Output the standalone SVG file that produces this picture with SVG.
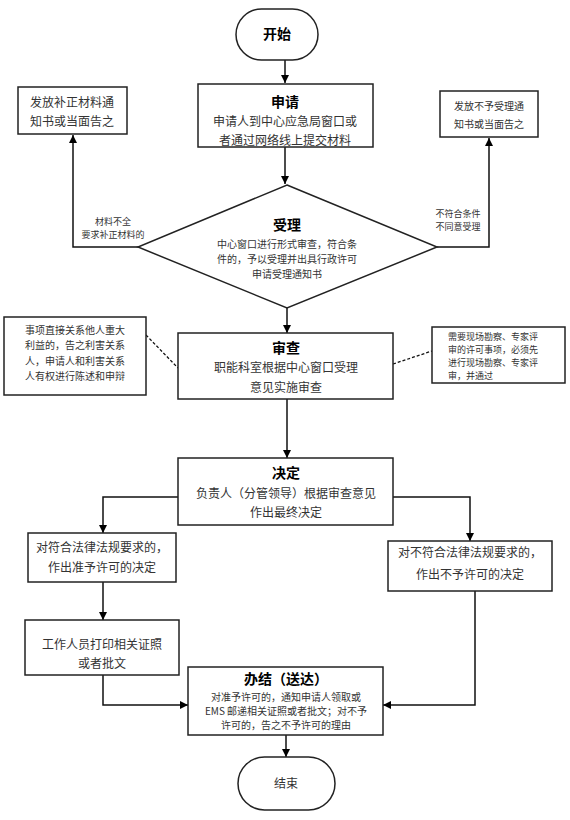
<svg xmlns="http://www.w3.org/2000/svg" width="570" height="820" viewBox="0 0 570 820">
<defs>
<marker id="ah" viewBox="0 0 10 10" refX="10" refY="5" markerWidth="8" markerHeight="8" markerUnits="userSpaceOnUse" orient="auto"><path d="M0,0 L10,5 L0,10 z" fill="#000"/></marker>
<style>
.box{fill:#fff;stroke:#222;stroke-width:1.5}
.t{font-family:"Noto Sans CJK SC","Noto Sans",sans-serif;fill:#333;text-anchor:middle}
.h{font-size:14px;font-weight:bold;fill:#000}
.b{font-size:12px}
.s{font-size:10px}
.xs{font-size:9px}
.l{text-anchor:start}
.ln{fill:none;stroke:#111;stroke-width:1.5}
.dash{fill:none;stroke:#111;stroke-width:1.3;stroke-dasharray:3,2}
</style>
</defs>
<g id="connectors">
<line class="ln" x1="285" y1="60" x2="285" y2="83" marker-end="url(#ah)"/>
<line class="ln" x1="285" y1="147" x2="285" y2="184" marker-end="url(#ah)"/>
<polyline class="ln" points="140,247 73,247 73,135" marker-end="url(#ah)"/>
<polyline class="ln" points="437,247 489,247 489,138" marker-end="url(#ah)"/>
<line class="ln" x1="287" y1="308" x2="287" y2="333" marker-end="url(#ah)"/>
<line class="dash" x1="146" y1="335" x2="178" y2="368"/>
<line class="dash" x1="393" y1="364" x2="432" y2="351"/>
<line class="ln" x1="287" y1="399" x2="287" y2="458" marker-end="url(#ah)"/>
<polyline class="ln" points="178,497 103,497 103,533" marker-end="url(#ah)"/>
<polyline class="ln" points="393,497 470,497 470,541" marker-end="url(#ah)"/>
<line class="ln" x1="103" y1="582" x2="103" y2="620" marker-end="url(#ah)"/>
<polyline class="ln" points="103,675 103,705 188,705" marker-end="url(#ah)"/>
<polyline class="ln" points="475,591 475,705 383,705" marker-end="url(#ah)"/>
<line class="ln" x1="286" y1="735" x2="286" y2="757" marker-end="url(#ah)"/>
<text class="t xs" x="113" y="225">材料不全</text>
<text class="t xs" x="113" y="238">要求补正材料的</text>
<text class="t xs" x="458" y="217">不符合条件</text>
<text class="t xs" x="458" y="230">不同意受理</text>
</g>
<g id="start">
<rect class="box" x="236" y="9" width="82" height="51" rx="25.5"/>
<text class="t h" x="277" y="39">开始</text>
</g>
<g id="apply">
<rect class="box" x="198" y="84" width="175" height="63"/>
<text class="t h" x="285" y="107">申请</text>
<text class="t b" x="285" y="126">申请人到中心应急局窗口或</text>
<text class="t b" x="285" y="145">者通过网络线上提交材料</text>
</g>
<g id="supplement">
<rect class="box" x="18" y="87" width="109" height="47"/>
<text class="t b" x="72" y="107">发放补正材料通</text>
<text class="t b" x="72" y="126">知书或当面告之</text>
</g>
<g id="reject">
<rect class="box" x="440" y="91" width="98" height="46"/>
<text class="t s" x="489" y="110">发放不予受理通</text>
<text class="t s" x="489" y="128">知书或当面告之</text>
</g>
<g id="accept">
<polygon class="box" points="287,185 437,247 287,308 138,247"/>
<text class="t h" x="287" y="230">受理</text>
<text class="t s" x="287" y="248">中心窗口进行形式审查，符合条</text>
<text class="t s" x="287" y="263">件的，予以受理并出具行政许可</text>
<text class="t s" x="287" y="278">申请受理通知书</text>
</g>
<g id="note-left">
<rect class="box" x="4" y="317" width="142" height="78"/>
<text class="t s" x="75" y="334">事项直接关系他人重大</text>
<text class="t s" x="75" y="349">利益的，告之利害关系</text>
<text class="t s" x="75" y="365">人，申请人和利害关系</text>
<text class="t s" x="75" y="380">人有权进行陈述和申辩</text>
</g>
<g id="review">
<rect class="box" x="178" y="333" width="215" height="66"/>
<text class="t h" x="286" y="353">审查</text>
<text class="t b" x="286" y="372">职能科室根据中心窗口受理</text>
<text class="t b" x="286" y="392">意见实施审查</text>
</g>
<g id="note-right">
<rect class="box" x="432" y="327" width="133" height="56"/>
<text class="t xs l" x="448" y="340">需要现场勘察、专家评</text>
<text class="t xs l" x="448" y="353">审的许可事项，必须先</text>
<text class="t xs l" x="448" y="366">进行现场勘察、专家评</text>
<text class="t xs l" x="448" y="379">审，并通过</text>
</g>
<g id="decide">
<rect class="box" x="178" y="458" width="215" height="67"/>
<text class="t h" x="286" y="478">决定</text>
<text class="t b" x="286" y="498">负责人（分管领导）根据审查意见</text>
<text class="t b" x="286" y="517">作出最终决定</text>
</g>
<g id="approve">
<rect class="box" x="28" y="533" width="148" height="49"/>
<text class="t b" x="102" y="552">对符合法律法规要求的，</text>
<text class="t b" x="102" y="572">作出准予许可的决定</text>
</g>
<g id="deny">
<rect class="box" x="388" y="541" width="164" height="50"/>
<text class="t b" x="470" y="557">对不符合法律法规要求的，</text>
<text class="t b" x="470" y="579">作出不予许可的决定</text>
</g>
<g id="print">
<rect class="box" x="25" y="620" width="154" height="55"/>
<text class="t b" x="102" y="649">工作人员打印相关证照</text>
<text class="t b" x="102" y="668">或者批文</text>
</g>
<g id="finish">
<rect class="box" x="188" y="667" width="195" height="68"/>
<text class="t h" x="286" y="684">办结（送达）</text>
<text class="t s" x="286" y="701">对准予许可的，通知申请人领取或</text>
<text class="t s" x="286" y="715">EMS 邮递相关证照或者批文；对不予</text>
<text class="t s" x="286" y="729">许可的，告之不予许可的理由</text>
</g>
<g id="end">
<rect class="box" x="238" y="757" width="97" height="53" rx="26.5"/>
<text class="t b" x="286" y="788">结束</text>
</g>
</svg>
